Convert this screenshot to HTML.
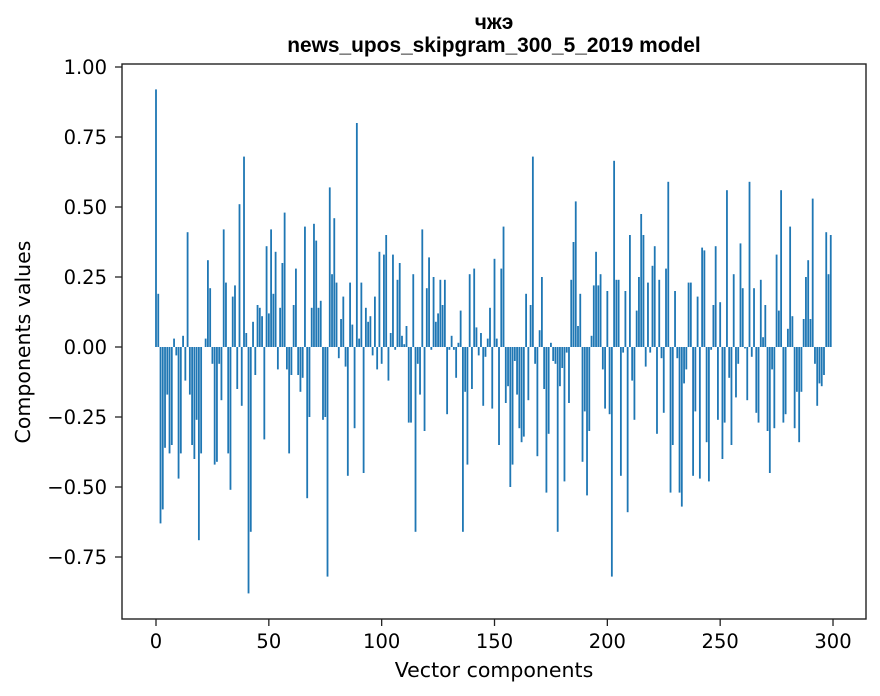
<!DOCTYPE html>
<html><head><meta charset="utf-8"><style>
body{margin:0;background:#fff;}
svg{display:block;font-family:"DejaVu Sans","Liberation Sans",sans-serif;}
</style></head><body>
<svg id="chart" width="880" height="696">
<rect width="880" height="696" fill="#fff"/>
<text x="494" y="29" text-anchor="middle" font-size="20.9" font-weight="bold" font-family="Liberation Sans, sans-serif">чжэ</text>
<text x="494" y="52" text-anchor="middle" font-size="20.9" font-weight="bold" font-family="Liberation Sans, sans-serif">news_upos_skipgram_300_5_2019 model</text>
<g id="bars"></g>
<g id="axes"></g>
<rect x="122" y="64" width="744" height="555" fill="none" stroke="#222" stroke-width="1.4"/>
<text x="494" y="677" text-anchor="middle" font-size="20.5">Vector components</text>
<text transform="translate(30,342) rotate(-90)" text-anchor="middle" font-size="20.5">Components values</text>
</svg>
<script>
const values = [0.92,0.19,-0.63,-0.58,-0.36,-0.17,-0.38,-0.35,0.03,-0.03,-0.47,-0.38,0.04,-0.12,0.41,-0.17,-0.35,-0.40,-0.26,-0.69,
-0.38,0.0,0.03,0.31,0.21,-0.06,-0.42,-0.41,-0.06,-0.19,0.42,0.23,-0.38,-0.51,0.18,0.22,-0.15,0.51,-0.21,0.68,
0.05,-0.88,-0.66,0.09,-0.10,0.15,0.14,0.11,-0.33,0.36,0.12,0.42,0.19,0.34,-0.08,0.14,0.30,0.48,-0.08,-0.38,
-0.10,0.15,0.28,-0.10,-0.16,-0.11,0.43,-0.54,-0.25,0.14,0.44,0.38,0.14,0.165,-0.26,-0.25,-0.82,0.57,0.26,0.46,
0.23,-0.04,0.10,0.18,-0.07,-0.46,0.23,0.08,-0.29,0.80,0.03,0.23,-0.45,0.14,0.09,0.11,-0.03,0.18,-0.08,0.34,
-0.06,0.33,0.40,-0.12,0.05,0.33,-0.01,0.24,0.30,0.04,0.01,0.075,-0.27,-0.27,0.26,-0.66,-0.06,-0.17,0.42,-0.30,
0.21,0.32,-0.01,0.25,0.09,0.12,0.24,0.15,0.24,-0.24,-0.01,0.04,-0.01,-0.11,0.015,0.13,-0.66,-0.16,-0.42,0.26,
-0.15,0.28,0.07,-0.03,0.05,-0.21,-0.035,0.03,0.14,-0.22,0.315,0.03,-0.35,0.28,0.43,-0.20,-0.14,-0.50,-0.42,-0.05,
-0.17,-0.29,-0.34,-0.32,0.19,-0.19,0.15,0.68,-0.06,-0.39,0.06,0.25,-0.15,-0.52,-0.31,0.015,-0.05,-0.06,-0.66,-0.14,
-0.075,-0.48,-0.02,-0.20,0.24,0.375,0.52,0.075,0.19,-0.41,-0.23,-0.53,-0.30,0.04,0.22,0.34,0.22,0.26,-0.08,-0.22,
0.20,-0.24,-0.82,0.665,0.24,0.24,-0.46,-0.02,0.20,-0.59,0.40,-0.12,-0.26,0.13,0.25,0.475,0.40,-0.07,0.23,-0.02,
0.29,0.36,-0.31,0.24,-0.04,-0.235,0.28,0.59,-0.52,-0.35,0.20,-0.04,-0.52,-0.57,-0.13,-0.08,0.23,0.23,-0.46,-0.23,
0.18,-0.47,0.355,0.345,-0.34,-0.48,-0.01,0.15,0.36,-0.26,0.16,-0.40,-0.27,0.56,-0.11,-0.35,0.26,-0.18,-0.06,0.37,
0.21,-0.005,-0.19,0.59,-0.035,0.21,-0.235,-0.27,0.24,0.035,0.15,-0.30,-0.45,-0.08,-0.29,0.33,0.13,0.56,-0.27,-0.24,
0.065,0.43,0.11,-0.29,-0.16,-0.34,-0.16,0.10,0.25,0.31,0.10,0.53,-0.06,-0.21,-0.13,-0.14,-0.10,0.41,0.26,0.40];
const xTicks = [0,50,100,150,200,250,300];
const yTicks = [-0.75,-0.5,-0.25,0,0.25,0.5,0.75,1.0];
const yTickLabels = ["−0.75","−0.50","−0.25","0.00","0.25","0.50","0.75","1.00"];

const NS="http://www.w3.org/2000/svg";
const X0=156, XS=2.2567, Y0=347, YS=280;
const xScale=v=>X0+v*XS;
const yScale=v=>Y0-v*YS;
const bars=document.getElementById('bars');
values.forEach((v,i)=>{
  const r=document.createElementNS(NS,'rect');
  const w=0.8*XS;
  r.setAttribute('x',xScale(i)-w/2);
  r.setAttribute('width',w);
  r.setAttribute('y',Math.min(yScale(v),yScale(0)));
  r.setAttribute('height',Math.abs(yScale(v)-yScale(0)));
  r.setAttribute('fill','#1f77b4');
  
  
  bars.appendChild(r);
});
const axes=document.getElementById('axes');
xTicks.forEach(t=>{
  const l=document.createElementNS(NS,'line');
  l.setAttribute('x1',xScale(t));l.setAttribute('x2',xScale(t));
  l.setAttribute('y1',619);l.setAttribute('y2',626);
  l.setAttribute('stroke','#222');l.setAttribute('stroke-width','1.3');
  
  
  axes.appendChild(l);
  const tx=document.createElementNS(NS,'text');
  tx.setAttribute('x',xScale(t));tx.setAttribute('y',648);
  tx.setAttribute('text-anchor','middle');tx.setAttribute('font-size','19.5');
  tx.textContent=String(t);
  
  
  axes.appendChild(tx);
});
yTicks.forEach((t,k)=>{
  const l=document.createElementNS(NS,'line');
  l.setAttribute('x1',115);l.setAttribute('x2',122);
  l.setAttribute('y1',yScale(t));l.setAttribute('y2',yScale(t));
  l.setAttribute('stroke','#222');l.setAttribute('stroke-width','1.3');
  
  
  axes.appendChild(l);
  const tx=document.createElementNS(NS,'text');
  tx.setAttribute('x',107);tx.setAttribute('y',yScale(t)+7);
  tx.setAttribute('text-anchor','end');tx.setAttribute('font-size','19.5');
  tx.textContent=yTickLabels[k];
  
  
  axes.appendChild(tx);
});
</script>
</body></html>
